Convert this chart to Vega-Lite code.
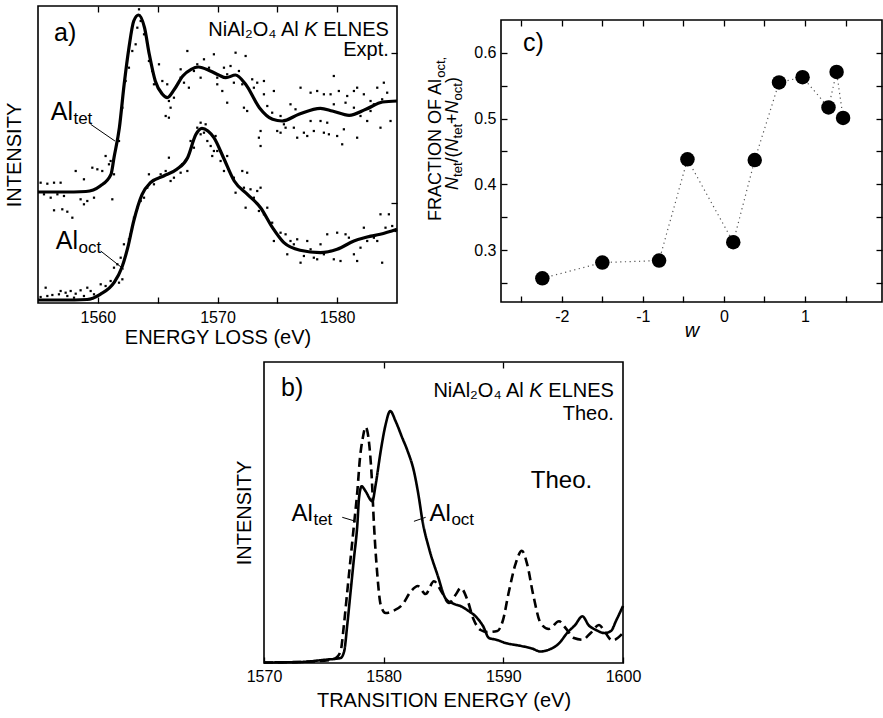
{
"$schema": "https://vega.github.io/schema/vega-lite/v6.json",
"padding": {"left": 3, "top": 4, "right": 0, "bottom": 0},
"autosize": {"type": "pad"},
"background": "white",
"config": {
  "font": "Liberation Sans",
  "view": {"stroke": "black", "strokeWidth": 1.6},
  "axis": {"domain": false, "grid": false, "ticks": true, "tickColor": "black", "tickWidth": 1.3, "tickSize": -6,
           "labelColor": "black", "labelFont": "Liberation Sans", "labelFontSize": 16, "labelPadding": 12, "labelFlush": false,
           "titleColor": "black", "titleFont": "Liberation Sans", "titleFontSize": 20, "titleFontWeight": "normal"},
  "text": {"font": "Liberation Sans", "color": "black"}
},
"datasets": {
  "aCurves": [
    {"s":"tet","E":1555,"v":111},{"s":"tet","E":1557,"v":111},{"s":"tet","E":1559,"v":111.5},{"s":"tet","E":1560.2,"v":117},{"s":"tet","E":1561.1,"v":128.7},{"s":"tet","E":1561.35,"v":145.3},{"s":"tet","E":1561.8,"v":175.3},{"s":"tet","E":1562.2,"v":218.7},{"s":"tet","E":1562.6,"v":255.3},{"s":"tet","E":1563.0,"v":282},{"s":"tet","E":1563.4,"v":288},{"s":"tet","E":1563.9,"v":275.3},{"s":"tet","E":1564.3,"v":248.7},{"s":"tet","E":1564.8,"v":222},{"s":"tet","E":1565.4,"v":208.7},{"s":"tet","E":1565.8,"v":205.3},{"s":"tet","E":1566.4,"v":213.7},{"s":"tet","E":1567.1,"v":227},{"s":"tet","E":1567.8,"v":233.7},{"s":"tet","E":1568.4,"v":236},{"s":"tet","E":1569.4,"v":232},{"s":"tet","E":1570.1,"v":228},{"s":"tet","E":1570.7,"v":225.3},{"s":"tet","E":1571.5,"v":228},{"s":"tet","E":1572.35,"v":218.7},{"s":"tet","E":1573.5,"v":195.3},{"s":"tet","E":1574.6,"v":183.7},{"s":"tet","E":1575.4,"v":182},{"s":"tet","E":1576.8,"v":188.7},{"s":"tet","E":1578.6,"v":194.7},{"s":"tet","E":1579.6,"v":192},{"s":"tet","E":1581.0,"v":187.7},{"s":"tet","E":1582.4,"v":193.7},{"s":"tet","E":1583.8,"v":201},{"s":"tet","E":1585,"v":202},
    {"s":"oct","E":1555,"v":3},{"s":"oct","E":1557,"v":3},{"s":"oct","E":1559.1,"v":3.5},{"s":"oct","E":1560.2,"v":8.7},{"s":"oct","E":1561.35,"v":20.3},{"s":"oct","E":1562.0,"v":35.3},{"s":"oct","E":1562.5,"v":55.3},{"s":"oct","E":1563.0,"v":82},{"s":"oct","E":1563.7,"v":108.7},{"s":"oct","E":1564.4,"v":120.3},{"s":"oct","E":1565.5,"v":127},{"s":"oct","E":1566.6,"v":133.7},{"s":"oct","E":1567.5,"v":145.3},{"s":"oct","E":1568.2,"v":168.7},{"s":"oct","E":1568.7,"v":174.7},{"s":"oct","E":1569.2,"v":172},{"s":"oct","E":1569.7,"v":165.3},{"s":"oct","E":1570.5,"v":145.3},{"s":"oct","E":1571.4,"v":122},{"s":"oct","E":1572.5,"v":108.7},{"s":"oct","E":1573.6,"v":95.3},{"s":"oct","E":1574.6,"v":75.3},{"s":"oct","E":1575.55,"v":60.3},{"s":"oct","E":1576.9,"v":52.7},{"s":"oct","E":1578.6,"v":50.3},{"s":"oct","E":1580.0,"v":53.7},{"s":"oct","E":1581.4,"v":62},{"s":"oct","E":1582.5,"v":66},{"s":"oct","E":1583.6,"v":68.7},{"s":"oct","E":1585,"v":73.7}
  ],
  "aDots": [
    {"E":1555.22,"v":120.3},{"E":1555.78,"v":119.3},{"E":1556.34,"v":120.3},{"E":1556.89,"v":120.3},{"E":1555.5,"v":108.7},{"E":1556.06,"v":105.3},{"E":1556.62,"v":108.7},{"E":1557.17,"v":107},{"E":1556.34,"v":92.7},{"E":1557.03,"v":93.7},{"E":1557.45,"v":91.3},{"E":1557.87,"v":85.3},{"E":1558.15,"v":132},{"E":1558.84,"v":123.7},{"E":1559.54,"v":135.3},{"E":1559.96,"v":133.7},{"E":1560.37,"v":132},{"E":1560.65,"v":147},{"E":1560.93,"v":138.7},{"E":1558.56,"v":103.7},{"E":1559.12,"v":102},{"E":1559.68,"v":105.3},{"E":1558.84,"v":98.7},{"E":1561.21,"v":103.7},{"E":1561.35,"v":128.7},{"E":1561.07,"v":142},{"E":1561.77,"v":162},{"E":1562.05,"v":195.3},{"E":1562.32,"v":222},{"E":1562.6,"v":235.3},{"E":1562.88,"v":252},{"E":1563.3,"v":275.3},{"E":1563.58,"v":282},{"E":1563.44,"v":293.7},{"E":1563.86,"v":268.7},{"E":1563.16,"v":258.7},{"E":1564.27,"v":242},{"E":1564.55,"v":232},{"E":1564.69,"v":218.7},{"E":1565.11,"v":238.7},{"E":1565.39,"v":222},{"E":1565.8,"v":218.7},{"E":1565.94,"v":202},{"E":1566.08,"v":195.3},{"E":1566.36,"v":205.3},{"E":1566.92,"v":225.3},{"E":1567.2,"v":220.3},{"E":1567.61,"v":215.3},{"E":1568.03,"v":232},{"E":1568.31,"v":238.7},{"E":1568.59,"v":225.3},{"E":1568.87,"v":243.7},{"E":1569.29,"v":235.3},{"E":1569.7,"v":248.7},{"E":1569.98,"v":225.3},{"E":1567.48,"v":252},{"E":1566.92,"v":233.7},{"E":1565.94,"v":185.3},{"E":1565.67,"v":187},
    {"E":1571.51,"v":250.3},{"E":1572.35,"v":247},{"E":1571.09,"v":237},{"E":1570.54,"v":235.3},{"E":1570.81,"v":228.7},{"E":1571.79,"v":232},{"E":1569.98,"v":218.7},{"E":1570.4,"v":212},{"E":1570.81,"v":200.3},{"E":1571.37,"v":220.3},{"E":1572.07,"v":218.7},{"E":1572.9,"v":223.7},{"E":1573.32,"v":220.3},{"E":1573.88,"v":222},{"E":1574.71,"v":212},{"E":1572.21,"v":195.3},{"E":1572.48,"v":192},{"E":1573.04,"v":215.3},{"E":1573.88,"v":208.7},{"E":1574.16,"v":197},{"E":1574.57,"v":190.3},{"E":1575.27,"v":187},{"E":1575.55,"v":178.7},{"E":1574.99,"v":172},{"E":1573.6,"v":172},{"E":1573.6,"v":157},{"E":1573.46,"v":165.3},{"E":1576.1,"v":198.7},{"E":1576.52,"v":193.7},{"E":1576.94,"v":215.3},{"E":1577.78,"v":210.3},{"E":1578.33,"v":212},{"E":1578.89,"v":208.7},{"E":1579.45,"v":208.7},{"E":1579.72,"v":227},{"E":1580.14,"v":212},{"E":1580.84,"v":207},{"E":1581.4,"v":212},{"E":1581.67,"v":215.3},{"E":1582.23,"v":208.7},{"E":1582.79,"v":202},{"E":1583.35,"v":215.3},{"E":1583.9,"v":220.3},{"E":1584.18,"v":210.3},{"E":1583.76,"v":203.7},{"E":1584.46,"v":182},{"E":1583.62,"v":175.3},{"E":1582.51,"v":182},{"E":1581.67,"v":165.3},{"E":1580.56,"v":173.7},{"E":1580.42,"v":158.7},{"E":1580.0,"v":167},{"E":1579.31,"v":168.7},{"E":1578.89,"v":170.3},{"E":1578.05,"v":172},{"E":1577.5,"v":167},{"E":1577.22,"v":170.3},{"E":1576.66,"v":165.3},{"E":1576.38,"v":175.3},{"E":1575.69,"v":175.3},{"E":1575.27,"v":170.3},{"E":1577.78,"v":182},{"E":1578.61,"v":182},{"E":1579.17,"v":180.3},{"E":1579.72,"v":198.7},{"E":1580.7,"v":200.3},{"E":1581.4,"v":195.3},{"E":1581.95,"v":187},{"E":1582.79,"v":192},{"E":1583.07,"v":198.7},
    {"E":1555.22,"v":6},{"E":1555.78,"v":7},{"E":1556.2,"v":8},{"E":1556.75,"v":8.7},{"E":1557.31,"v":10.3},{"E":1557.73,"v":12},{"E":1558.15,"v":9.3},{"E":1558.56,"v":12.7},{"E":1559.12,"v":15.3},{"E":1559.4,"v":12},{"E":1555.64,"v":15.3},{"E":1556.89,"v":12},{"E":1557.45,"v":7},{"E":1558.01,"v":5.3},{"E":1558.84,"v":7},{"E":1559.68,"v":8.7},{"E":1560.24,"v":18.7},{"E":1560.65,"v":17},{"E":1561.07,"v":22},{"E":1561.35,"v":35.3},{"E":1561.63,"v":38.7},{"E":1561.91,"v":45.3},{"E":1561.77,"v":20.3},{"E":1562.05,"v":23.7},{"E":1562.18,"v":58.7},{"E":1562.6,"v":63.7},{"E":1562.74,"v":68.7},{"E":1563.02,"v":85.3},{"E":1563.3,"v":95.3},{"E":1563.58,"v":102},{"E":1563.86,"v":105.3},{"E":1564.13,"v":115.3},{"E":1564.27,"v":128.7},{"E":1564.69,"v":118.7},{"E":1565.25,"v":128.7},{"E":1565.67,"v":132},{"E":1566.08,"v":122},{"E":1565.94,"v":145.3},{"E":1566.36,"v":125.3},{"E":1566.92,"v":130.3},{"E":1567.06,"v":138.7},{"E":1567.34,"v":142},{"E":1567.48,"v":132},{"E":1567.75,"v":162},{"E":1568.03,"v":155.3},{"E":1568.31,"v":175.3},{"E":1568.59,"v":168.7},{"E":1568.87,"v":170.3},{"E":1569.15,"v":162},{"E":1569.43,"v":157},{"E":1569.7,"v":152},{"E":1569.56,"v":147},{"E":1569.84,"v":167},{"E":1568.59,"v":180.3},{"E":1569.01,"v":178.7},
    {"E":1569.98,"v":152},{"E":1570.26,"v":142},{"E":1570.81,"v":147},{"E":1570.54,"v":132},{"E":1571.37,"v":125.3},{"E":1571.51,"v":110.3},{"E":1572.07,"v":132},{"E":1572.48,"v":130.3},{"E":1572.21,"v":115.3},{"E":1572.76,"v":113.7},{"E":1572.35,"v":95.3},{"E":1573.04,"v":105.3},{"E":1573.32,"v":112},{"E":1573.6,"v":115.3},{"E":1573.46,"v":92},{"E":1573.88,"v":88.7},{"E":1574.16,"v":95.3},{"E":1574.57,"v":80.3},{"E":1574.71,"v":62},{"E":1575.27,"v":70.3},{"E":1575.69,"v":68.7},{"E":1575.83,"v":48.7},{"E":1576.1,"v":62},{"E":1576.38,"v":58.7},{"E":1576.66,"v":63.7},{"E":1576.94,"v":40.3},{"E":1577.22,"v":47},{"E":1577.5,"v":62},{"E":1577.78,"v":53.7},{"E":1578.05,"v":45.3},{"E":1578.33,"v":43.7},{"E":1578.61,"v":58.7},{"E":1578.89,"v":48.7},{"E":1579.17,"v":68.7},{"E":1579.45,"v":52},{"E":1579.72,"v":43.7},{"E":1580.0,"v":70.3},{"E":1580.28,"v":42},{"E":1580.7,"v":68.7},{"E":1580.98,"v":65.3},{"E":1581.4,"v":48.7},{"E":1581.67,"v":42},{"E":1581.95,"v":55.3},{"E":1582.23,"v":75.3},{"E":1582.51,"v":62},{"E":1582.79,"v":67},{"E":1583.07,"v":65.3},{"E":1583.35,"v":62},{"E":1583.62,"v":88.7},{"E":1583.76,"v":40.3},{"E":1584.04,"v":75.3},{"E":1584.32,"v":88.7},{"E":1584.6,"v":77},{"E":1584.88,"v":72}
  ],
  "bCurves": [
    {"s":"oct","E":1570,"v":0.5},{"s":"oct","E":1573,"v":1},{"s":"oct","E":1575.15,"v":3.3},{"s":"oct","E":1576.4,"v":5},{"s":"oct","E":1576.7,"v":11.7},{"s":"oct","E":1576.96,"v":38.3},{"s":"oct","E":1577.24,"v":71.7},{"s":"oct","E":1577.52,"v":105},{"s":"oct","E":1577.8,"v":138.3},{"s":"oct","E":1577.94,"v":165},{"s":"oct","E":1578.16,"v":176.7},{"s":"oct","E":1578.49,"v":171.7},{"s":"oct","E":1579.05,"v":161.7},{"s":"oct","E":1579.33,"v":178.3},{"s":"oct","E":1579.75,"v":211.7},{"s":"oct","E":1580.16,"v":238.3},{"s":"oct","E":1580.55,"v":252},{"s":"oct","E":1581.0,"v":241.7},{"s":"oct","E":1581.56,"v":225},{"s":"oct","E":1582.0,"v":212},{"s":"oct","E":1582.53,"v":191.7},{"s":"oct","E":1582.95,"v":165},{"s":"oct","E":1583.23,"v":143},{"s":"oct","E":1583.78,"v":115},{"s":"oct","E":1584.5,"v":88},{"s":"oct","E":1585.2,"v":64},{"s":"oct","E":1585.8,"v":59.5},{"s":"oct","E":1586.5,"v":56.5},{"s":"oct","E":1587.13,"v":51.7},{"s":"oct","E":1587.68,"v":46.7},{"s":"oct","E":1588.3,"v":37},{"s":"oct","E":1588.8,"v":25},{"s":"oct","E":1589.4,"v":23.3},{"s":"oct","E":1590.19,"v":20},{"s":"oct","E":1591.5,"v":17},{"s":"oct","E":1592.4,"v":14.5},{"s":"oct","E":1593.1,"v":11.5},{"s":"oct","E":1593.8,"v":13.3},{"s":"oct","E":1594.6,"v":19},{"s":"oct","E":1595.4,"v":31},{"s":"oct","E":1596.0,"v":38},{"s":"oct","E":1596.6,"v":46.7},{"s":"oct","E":1597.15,"v":37.5},{"s":"oct","E":1597.7,"v":33.3},{"s":"oct","E":1598.45,"v":30},{"s":"oct","E":1599.0,"v":32},{"s":"oct","E":1599.4,"v":41.7},{"s":"oct","E":1600,"v":57},
    {"s":"tet","E":1570,"v":0.5},{"s":"tet","E":1573,"v":1},{"s":"tet","E":1575.5,"v":3},{"s":"tet","E":1576.0,"v":5},{"s":"tet","E":1576.4,"v":11.7},{"s":"tet","E":1576.68,"v":38.3},{"s":"tet","E":1576.96,"v":71.7},{"s":"tet","E":1577.24,"v":105},{"s":"tet","E":1577.52,"v":138.3},{"s":"tet","E":1577.8,"v":171.7},{"s":"tet","E":1578.02,"v":205},{"s":"tet","E":1578.27,"v":226},{"s":"tet","E":1578.49,"v":236},{"s":"tet","E":1578.72,"v":226},{"s":"tet","E":1578.99,"v":188.3},{"s":"tet","E":1579.19,"v":138.3},{"s":"tet","E":1579.47,"v":88.3},{"s":"tet","E":1579.75,"v":58.3},{"s":"tet","E":1580.16,"v":50},{"s":"tet","E":1580.72,"v":51.7},{"s":"tet","E":1581.56,"v":58.3},{"s":"tet","E":1582.3,"v":72},{"s":"tet","E":1582.85,"v":77},{"s":"tet","E":1583.5,"v":69},{"s":"tet","E":1584.2,"v":81.7},{"s":"tet","E":1584.9,"v":70},{"s":"tet","E":1585.46,"v":60},{"s":"tet","E":1586.0,"v":68},{"s":"tet","E":1586.45,"v":75},{"s":"tet","E":1587.0,"v":63},{"s":"tet","E":1587.5,"v":44},{"s":"tet","E":1588.1,"v":33},{"s":"tet","E":1588.66,"v":31},{"s":"tet","E":1589.5,"v":32},{"s":"tet","E":1589.95,"v":42},{"s":"tet","E":1590.47,"v":71.7},{"s":"tet","E":1591.0,"v":98.3},{"s":"tet","E":1591.55,"v":112.3},{"s":"tet","E":1592.0,"v":98.3},{"s":"tet","E":1592.5,"v":68},{"s":"tet","E":1593.11,"v":40},{"s":"tet","E":1593.8,"v":34},{"s":"tet","E":1594.65,"v":41.7},{"s":"tet","E":1595.2,"v":35},{"s":"tet","E":1595.9,"v":25},{"s":"tet","E":1596.6,"v":23.3},{"s":"tet","E":1597.3,"v":30},{"s":"tet","E":1597.99,"v":38},{"s":"tet","E":1598.54,"v":30},{"s":"tet","E":1599.1,"v":22.5},{"s":"tet","E":1600,"v":30}
  ],
  "cPts": [
    {"w":-2.24,"f":0.257},{"w":-1.5,"f":0.281},{"w":-0.8,"f":0.284},{"w":-0.45,"f":0.438},{"w":0.115,"f":0.312},{"w":0.38,"f":0.437},{"w":0.68,"f":0.555},{"w":0.97,"f":0.563},{"w":1.29,"f":0.517},{"w":1.39,"f":0.571},{"w":1.47,"f":0.501}
  ]
},
"spacing": 12,
"vconcat": [
  {"spacing": 21, "hconcat": [
    {
      "width": 359, "height": 297,
      "resolve": {"axis": {"x": "independent", "y": "independent"}},
      "layer": [
        {"data": {"name": "aCurves"},
         "mark": {"type": "line", "color": "black", "strokeWidth": 3.2, "interpolate": "monotone"},
         "encoding": {
           "x": {"field": "E", "type": "quantitative", "scale": {"domain": [1555, 1585], "nice": false, "zero": false},
                 "axis": {"orient": "bottom", "values": [1560, 1565, 1570, 1575, 1580], "format": "d", "labelExpr": "datum.value % 10 == 0 ? datum.label : ''", "title": "ENERGY LOSS (eV)", "titlePadding": 2}},
           "y": {"field": "v", "type": "quantitative", "scale": {"domain": [0, 297], "nice": false, "zero": false},
                 "axis": {"orient": "left", "labels": false, "ticks": false, "title": "INTENSITY", "titlePadding": 14}},
           "detail": {"field": "s"}}},
        {"data": {"name": "aDots"},
         "mark": {"type": "square", "size": 5, "color": "black", "filled": true, "opacity": 1},
         "encoding": {
           "x": {"field": "E", "type": "quantitative", "scale": {"domain": [1555, 1585], "nice": false, "zero": false},
                 "axis": {"orient": "top", "values": [1560, 1565, 1570, 1575, 1580], "labels": false, "title": null}},
           "y": {"field": "v", "type": "quantitative", "scale": {"domain": [0, 297], "nice": false, "zero": false},
                 "axis": {"orient": "right", "values": [100, 250], "labels": false, "title": null}}}},
        {"data": {"values": [{"t": "a)", "E": 1556.34, "v": 262}]},
         "mark": {"type": "text", "fontSize": 25, "align": "left", "baseline": "alphabetic"},
         "encoding": {"x": {"field": "E", "type": "quantitative", "axis": null, "scale": {"domain": [1555, 1585], "nice": false, "zero": false}},
                      "y": {"field": "v", "type": "quantitative", "axis": null, "scale": {"domain": [0, 297], "nice": false, "zero": false}},
                      "text": {"field": "t"}}},
        {"data": {"values": [{"t": "NiAl₂O₄ Al", "E": 1576.79, "v": 267}, {"t": "ELNES", "E": 1584.32, "v": 267}, {"t": "Expt.", "E": 1584.32, "v": 247}]},
         "mark": {"type": "text", "fontSize": 20, "align": "right", "baseline": "alphabetic"},
         "encoding": {"x": {"field": "E", "type": "quantitative", "axis": null, "scale": {"domain": [1555, 1585], "nice": false, "zero": false}},
                      "y": {"field": "v", "type": "quantitative", "axis": null, "scale": {"domain": [0, 297], "nice": false, "zero": false}},
                      "text": {"field": "t"}}},
        {"data": {"values": [{"t": "K", "E": 1578.37, "v": 267}]},
         "mark": {"type": "text", "fontSize": 20, "fontStyle": "italic", "align": "right", "baseline": "alphabetic"},
         "encoding": {"x": {"field": "E", "type": "quantitative", "axis": null, "scale": {"domain": [1555, 1585], "nice": false, "zero": false}},
                      "y": {"field": "v", "type": "quantitative", "axis": null, "scale": {"domain": [0, 297], "nice": false, "zero": false}},
                      "text": {"field": "t"}}},
        {"data": {"values": [{"t": "Al", "E": 1557.92, "v": 183}, {"t": "Al", "E": 1558.34, "v": 53.7}]},
         "mark": {"type": "text", "fontSize": 25, "align": "right", "baseline": "alphabetic"},
         "encoding": {"x": {"field": "E", "type": "quantitative", "axis": null, "scale": {"domain": [1555, 1585], "nice": false, "zero": false}},
                      "y": {"field": "v", "type": "quantitative", "axis": null, "scale": {"domain": [0, 297], "nice": false, "zero": false}},
                      "text": {"field": "t"}}},
        {"data": {"values": [{"t": "tet", "E": 1557.96, "v": 179}, {"t": "oct", "E": 1558.38, "v": 49.7}]},
         "mark": {"type": "text", "fontSize": 17, "align": "left", "baseline": "alphabetic"},
         "encoding": {"x": {"field": "E", "type": "quantitative", "axis": null, "scale": {"domain": [1555, 1585], "nice": false, "zero": false}},
                      "y": {"field": "v", "type": "quantitative", "axis": null, "scale": {"domain": [0, 297], "nice": false, "zero": false}},
                      "text": {"field": "t"}}},
        {"data": {"values": [{"E": 1559.4, "v": 178.7, "E2": 1561.43, "v2": 162}, {"E": 1560.24, "v": 52, "E2": 1562.18, "v2": 33.7}]},
         "mark": {"type": "rule", "color": "black", "strokeWidth": 1},
         "encoding": {"x": {"field": "E", "type": "quantitative", "axis": null, "scale": {"domain": [1555, 1585], "nice": false, "zero": false}},
                      "y": {"field": "v", "type": "quantitative", "axis": null, "scale": {"domain": [0, 297], "nice": false, "zero": false}},
                      "x2": {"field": "E2"}, "y2": {"field": "v2"}}}
      ]
    },
    {"spacing": 0, "vconcat": [
      {"width": 5, "height": 12, "data": {"values": []}, "mark": "point", "view": {"stroke": null}},
      {
        "width": 381, "height": 282,
        "resolve": {"axis": {"x": "independent", "y": "independent"}},
        "layer": [
          {"data": {"name": "cPts"},
           "mark": {"type": "line", "color": "#555", "strokeWidth": 1.2, "strokeDash": [1.2, 3.5]},
           "encoding": {
             "x": {"field": "w", "type": "quantitative", "scale": {"domain": [-2.75, 1.95], "nice": false, "zero": false},
                   "axis": {"orient": "bottom", "values": [-2.5, -2, -1.5, -1, -0.5, 0, 0.5, 1, 1.5], "labelExpr": "datum.value % 1 == 0 ? '' + datum.value : ''", "title": "w", "titleFontStyle": "italic", "titlePadding": -4}},
             "y": {"field": "f", "type": "quantitative", "scale": {"domain": [0.221, 0.65], "nice": false, "zero": false},
                   "axis": {"orient": "left", "values": [0.25, 0.3, 0.35, 0.4, 0.45, 0.5, 0.55, 0.6], "labelExpr": "round(datum.value * 100) % 10 == 0 ? format(datum.value, '.1f') : ''", "title": null, "labelPadding": 11}}}},
          {"data": {"name": "cPts"},
           "mark": {"type": "circle", "size": 210, "color": "black", "opacity": 1},
           "encoding": {
             "x": {"field": "w", "type": "quantitative", "scale": {"domain": [-2.75, 1.95], "nice": false, "zero": false},
                   "axis": {"orient": "top", "values": [-2.5, -2, -1.5, -1, -0.5, 0, 0.5, 1, 1.5], "labels": false, "title": null}},
             "y": {"field": "f", "type": "quantitative", "scale": {"domain": [0.221, 0.65], "nice": false, "zero": false},
                   "axis": {"orient": "right", "values": [0.25, 0.3, 0.35, 0.4, 0.45, 0.5, 0.55, 0.6], "labels": false, "title": null}}}},
          {"data": {"values": [{"t": "c)", "w": -2.48, "f": 0.603}]},
           "mark": {"type": "text", "fontSize": 25, "align": "left", "baseline": "alphabetic"},
           "encoding": {"x": {"field": "w", "type": "quantitative", "axis": null, "scale": {"domain": [-2.75, 1.95], "nice": false, "zero": false}},
                        "y": {"field": "f", "type": "quantitative", "axis": null, "scale": {"domain": [0.221, 0.65], "nice": false, "zero": false}},
                        "text": {"field": "t"}}},
          {"data": {"values": [{"t": "FRACTION OF Al", "w": -3.49, "f": 0.3443}, {"t": "/(", "w": -3.285, "f": 0.4333}, {"t": "+", "w": -3.285, "f": 0.4919}, {"t": ")", "w": -3.285, "f": 0.554}]},
           "mark": {"type": "text", "fontSize": 18, "angle": 270, "align": "left", "baseline": "alphabetic"},
           "encoding": {"x": {"field": "w", "type": "quantitative", "axis": null, "scale": {"domain": [-2.75, 1.95], "nice": false, "zero": false}},
                        "y": {"field": "f", "type": "quantitative", "axis": null, "scale": {"domain": [0.221, 0.65], "nice": false, "zero": false}},
                        "text": {"field": "t"}}},
          {"data": {"values": [{"t": "N", "w": -3.285, "f": 0.3915}, {"t": "N", "w": -3.285, "f": 0.4501}, {"t": "N", "w": -3.285, "f": 0.5079}]},
           "mark": {"type": "text", "fontSize": 18, "fontStyle": "italic", "angle": 270, "align": "left", "baseline": "alphabetic"},
           "encoding": {"x": {"field": "w", "type": "quantitative", "axis": null, "scale": {"domain": [-2.75, 1.95], "nice": false, "zero": false}},
                        "y": {"field": "f", "type": "quantitative", "axis": null, "scale": {"domain": [0.221, 0.65], "nice": false, "zero": false}},
                        "text": {"field": "t"}}},
          {"data": {"values": [{"t": "oct,", "w": -3.44, "f": 0.562}, {"t": "tet", "w": -3.235, "f": 0.4113}, {"t": "tet", "w": -3.235, "f": 0.4699}, {"t": "oct", "w": -3.235, "f": 0.5277}]},
           "mark": {"type": "text", "fontSize": 13, "angle": 270, "align": "left", "baseline": "alphabetic"},
           "encoding": {"x": {"field": "w", "type": "quantitative", "axis": null, "scale": {"domain": [-2.75, 1.95], "nice": false, "zero": false}},
                        "y": {"field": "f", "type": "quantitative", "axis": null, "scale": {"domain": [0.221, 0.65], "nice": false, "zero": false}},
                        "text": {"field": "t"}}}
        ]
      }
    ]}
  ]},
  {"spacing": 0, "hconcat": [
    {"width": 195, "height": 10, "data": {"values": []}, "mark": "point", "view": {"stroke": null}},
    {
      "width": 359, "height": 301,
      "resolve": {"axis": {"x": "independent", "y": "independent"}},
      "layer": [
        {"data": {"name": "bCurves"},
         "mark": {"type": "line", "color": "black", "strokeWidth": 2.6, "interpolate": "monotone"},
         "encoding": {
           "x": {"field": "E", "type": "quantitative", "scale": {"domain": [1570, 1600], "nice": false, "zero": false},
                 "axis": {"orient": "bottom", "values": [1570, 1580, 1590, 1600], "format": "d", "title": "TRANSITION ENERGY (eV)", "titlePadding": 6, "labelPadding": 11}},
           "y": {"field": "v", "type": "quantitative", "scale": {"domain": [0, 301], "nice": false, "zero": false},
                 "axis": {"orient": "left", "labels": false, "ticks": false, "title": "INTENSITY", "titlePadding": 10}},
           "strokeDash": {"field": "s", "type": "nominal", "scale": {"domain": ["oct", "tet"], "range": [[1, 0], [9, 5]]}, "legend": null}}},
        {"data": {"values": [{"t": "b)", "E": 1571.42, "v": 267}]},
         "mark": {"type": "text", "fontSize": 25, "align": "left", "baseline": "alphabetic"},
         "encoding": {"x": {"field": "E", "type": "quantitative", "scale": {"domain": [1570, 1600], "nice": false, "zero": false},
                            "axis": {"orient": "top", "values": [1580, 1590], "labels": false, "title": null}},
                      "y": {"field": "v", "type": "quantitative", "axis": null, "scale": {"domain": [0, 301], "nice": false, "zero": false}},
                      "text": {"field": "t"}}},
        {"data": {"values": [{"t": "NiAl₂O₄ Al", "E": 1591.71, "v": 266}, {"t": "ELNES", "E": 1599.24, "v": 266}, {"t": "Theo.", "E": 1599.24, "v": 243}]},
         "mark": {"type": "text", "fontSize": 20, "align": "right", "baseline": "alphabetic"},
         "encoding": {"x": {"field": "E", "type": "quantitative", "axis": null, "scale": {"domain": [1570, 1600], "nice": false, "zero": false}},
                      "y": {"field": "v", "type": "quantitative", "axis": null, "scale": {"domain": [0, 301], "nice": false, "zero": false}},
                      "text": {"field": "t"}}},
        {"data": {"values": [{"t": "K", "E": 1593.29, "v": 266}]},
         "mark": {"type": "text", "fontSize": 20, "fontStyle": "italic", "align": "right", "baseline": "alphabetic"},
         "encoding": {"x": {"field": "E", "type": "quantitative", "axis": null, "scale": {"domain": [1570, 1600], "nice": false, "zero": false}},
                      "y": {"field": "v", "type": "quantitative", "axis": null, "scale": {"domain": [0, 301], "nice": false, "zero": false}},
                      "text": {"field": "t"}}},
        {"data": {"values": [{"t": "Theo.", "E": 1592.3, "v": 175}]},
         "mark": {"type": "text", "fontSize": 24, "align": "left", "baseline": "alphabetic"},
         "encoding": {"x": {"field": "E", "type": "quantitative", "axis": null, "scale": {"domain": [1570, 1600], "nice": false, "zero": false}},
                      "y": {"field": "v", "type": "quantitative", "axis": null, "scale": {"domain": [0, 301], "nice": false, "zero": false}},
                      "text": {"field": "t"}}},
        {"data": {"values": [{"t": "Al", "E": 1574.09, "v": 141.7}, {"t": "Al", "E": 1585.62, "v": 141.7}]},
         "mark": {"type": "text", "fontSize": 24, "align": "right", "baseline": "alphabetic"},
         "encoding": {"x": {"field": "E", "type": "quantitative", "axis": null, "scale": {"domain": [1570, 1600], "nice": false, "zero": false}},
                      "y": {"field": "v", "type": "quantitative", "axis": null, "scale": {"domain": [0, 301], "nice": false, "zero": false}},
                      "text": {"field": "t"}}},
        {"data": {"values": [{"t": "tet", "E": 1574.13, "v": 138}, {"t": "oct", "E": 1585.66, "v": 138}]},
         "mark": {"type": "text", "fontSize": 17, "align": "left", "baseline": "alphabetic"},
         "encoding": {"x": {"field": "E", "type": "quantitative", "axis": null, "scale": {"domain": [1570, 1600], "nice": false, "zero": false}},
                      "y": {"field": "v", "type": "quantitative", "axis": null, "scale": {"domain": [0, 301], "nice": false, "zero": false}},
                      "text": {"field": "t"}}},
        {"data": {"values": [{"E": 1576.54, "v": 145.7, "E2": 1577.66, "v2": 141.7}, {"E": 1582.53, "v": 141.7, "E2": 1583.51, "v2": 145.7}]},
         "mark": {"type": "rule", "color": "black", "strokeWidth": 1},
         "encoding": {"x": {"field": "E", "type": "quantitative", "axis": null, "scale": {"domain": [1570, 1600], "nice": false, "zero": false}},
                      "y": {"field": "v", "type": "quantitative", "axis": null, "scale": {"domain": [0, 301], "nice": false, "zero": false}},
                      "x2": {"field": "E2"}, "y2": {"field": "v2"}}}
      ]
    }
  ]}
]
}
